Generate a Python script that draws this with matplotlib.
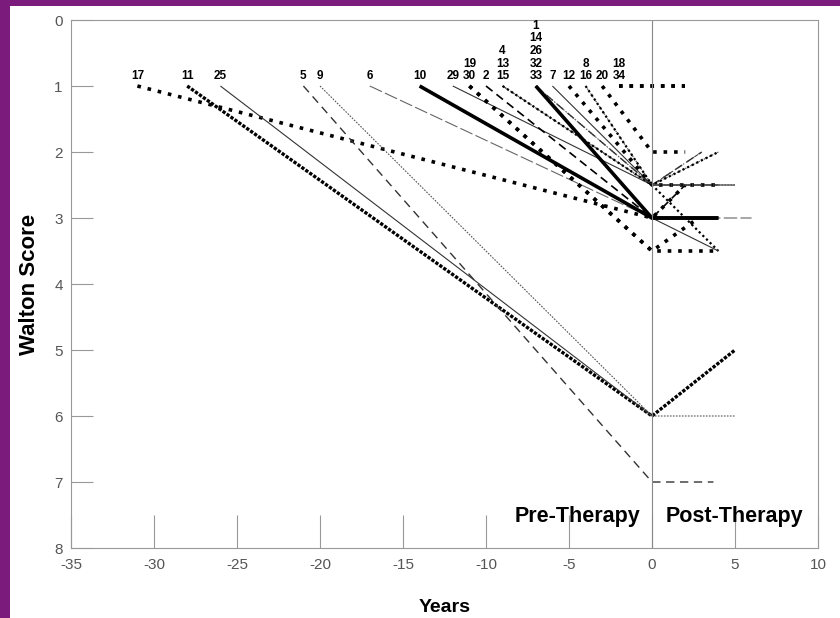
import numpy as np
import matplotlib
matplotlib.use('Agg')
import matplotlib.pyplot as plt
from matplotlib.patches import Rectangle

plt.rcParams['axes.unicode_minus'] = False

# patient data: label, onset year, score at onset, score at therapy start, post year, post score, style
patients = ['17', '11', '25', '5', '9', '6', '10', '29', '30', '19', '2', '4', '13', '15',
            '1', '14', '26', '32', '33', '7', '12', '8', '16', '20', '18', '34']
onset_year = [-31, -28, -26, -21, -20, -17, -14, -12, -11, -11, -10, -9, -9, -9,
              -7, -7, -7, -7, -7, -6, -5, -4, -4, -3, -2, -2]
onset_score = [1] * len(patients)
therapy_score = [3, 6, 6, 7, 6, 3, 3, 2.5, 3.5, 3.5, 3, 2.5, 2.5, 2.5,
                 3, 2.5, 2.5, 3, 3, 2.5, 2.5, 2.5, 2.5, 2, 1, 1]
post_year = [2, 5, 0, 3.7, 5, 6, 4, 5, 4, 2.8, 2, 3, 4, 4,
             4, 5, 3, 4, 4, 4, 4, 4, 4, 2, 2, 2]
post_score = [2.5, 5, 6, 7, 6, 3, 3, 2.5, 3.5, 3, 2.5, 2, 2, 3.5,
              3.5, 2.5, 2, 3, 3, 2.5, 2.5, 2.5, 2, 2, 1, 1]
styles = ['bigdot', 'dense', 'thin', 'dash', 'fine', 'gray', 'thick', 'thin', 'bigdot', 'bigdot',
          'dashb', 'dashdot', 'fine', 'meddot', 'thin', 'fine', 'dash', 'thin', 'thick', 'thin',
          'bigdot', 'fine', 'meddot', 'bigdot', 'bigdot', 'bigdot']

style_kw = {
    'bigdot': dict(color='black', lw=2.6, ls=(0, (1, 1.9))),
    'dense': dict(color='black', lw=2.4, ls=(0, (1, 0.45))),
    'thin': dict(color='#333333', lw=0.8, ls='-'),
    'gray': dict(color='#666666', lw=0.8, ls=(0, (12, 3))),
    'thick': dict(color='black', lw=2.6, ls='-'),
    'dash': dict(color='#333333', lw=1.0, ls=(0, (6, 4))),
    'dashb': dict(color='black', lw=1.2, ls=(0, (5, 3))),
    'fine': dict(color='#555555', lw=0.8, ls=(0, (1.5, 1.2))),
    'dashdot': dict(color='#444444', lw=0.8, ls=(0, (4, 2, 1, 2))),
    'meddot': dict(color='black', lw=1.6, ls=(0, (1, 1.3))),
}
fam = ['Liberation Sans Narrow', 'Liberation Sans']

fig = plt.figure(figsize=(8.4, 6.18), dpi=100)
fig.patch.set_facecolor('#7b1b7b')
bg = Rectangle((10 / 840, 0), 1, 1 - 6 / 618, transform=fig.transFigure,
               facecolor='white', edgecolor='none', zorder=-10)
fig.add_artist(bg)
ax = fig.add_axes([71 / 840, 1 - 548 / 618, 747 / 840, 528 / 618])
ax.set_facecolor('white')

for i, p in enumerate(patients):
    xs = [onset_year[i], 0, post_year[i]]
    ys = [onset_score[i], therapy_score[i], post_score[i]]
    ax.plot(xs, ys, solid_capstyle='butt', dash_capstyle='butt', **style_kw[styles[i]])

# labels stacked above each onset point
stacks = {}
for i, p in enumerate(patients):
    stacks.setdefault(onset_year[i], []).append(p)
label_order = {-11: ['30', '19'], -9: ['15', '13', '4'], -7: ['33', '32', '26', '14', '1'],
               -4: ['16', '8'], -2: ['34', '18']}
for yr, labs in stacks.items():
    labs = label_order.get(yr, labs)
    for k, lab in enumerate(labs):
        ax.text(yr, 0.85 - k * 0.19, lab, ha='center', va='center', fontsize=8.5,
                fontweight='bold', family=fam)

ax.axvline(0, color='#888888', lw=0.8)
ax.text(-4.5, 7.53, 'Pre-Therapy', ha='center', va='center', fontsize=15.5, fontweight='bold',
        family=fam)
ax.text(4.95, 7.53, 'Post-Therapy', ha='center', va='center', fontsize=15.5, fontweight='bold',
        family=fam)

ax.set_xlim(-35, 10)
ax.set_ylim(8, 0)
ax.set_xticks(np.arange(-35, 11, 5))
ax.set_yticks(np.arange(0, 9, 1))
for s in ax.spines.values():
    s.set_color('#999999')
    s.set_linewidth(0.8)
ax.tick_params(axis='x', direction='in', length=24, color='#999999', labelcolor='#555555',
               labelsize=11, pad=7)
ax.tick_params(axis='y', direction='in', length=16, color='#999999', labelcolor='#555555',
               labelsize=11, pad=6)
for t in ax.get_xticklabels() + ax.get_yticklabels():
    t.set_family(fam)

ax.set_xlabel('Years', fontsize=14, fontweight='bold', labelpad=20, family=fam)
ax.set_ylabel('Walton Score', fontsize=16, fontweight='bold', labelpad=10, family=fam)

fig.savefig('out.png', dpi=100, facecolor=fig.get_facecolor())
